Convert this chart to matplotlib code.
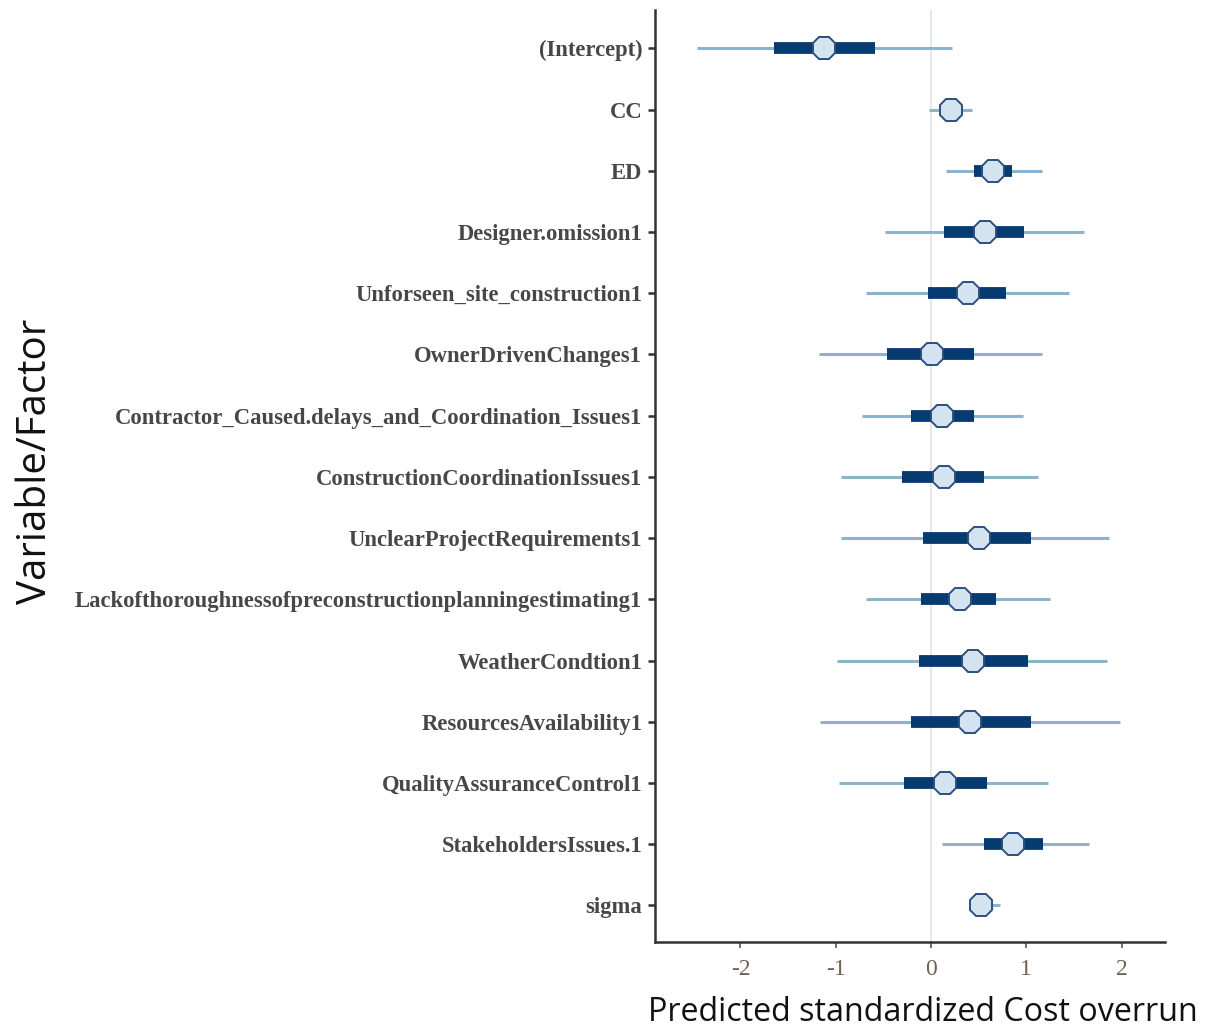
import matplotlib
matplotlib.use("Agg")
import matplotlib.pyplot as plt

# Posterior summaries per model term: median, 50% interval, 90% interval
terms = [
    "(Intercept)",
    "CC",
    "ED",
    "Designer.omission1",
    "Unforseen_site_construction1",
    "OwnerDrivenChanges1",
    "Contractor_Caused.delays_and_Coordination_Issues1",
    "ConstructionCoordinationIssues1",
    "UnclearProjectRequirements1",
    "Lackofthoroughnessofpreconstructionplanningestimating1",
    "WeatherCondtion1",
    "ResourcesAvailability1",
    "QualityAssuranceControl1",
    "StakeholdersIssues.1",
    "sigma",
]
median = [-1.12, 0.21, 0.65, 0.57, 0.39, 0.01, 0.12, 0.14, 0.50, 0.30, 0.44, 0.41, 0.15, 0.86, 0.52]
inner_lo = [-1.65, 0.13, 0.45, 0.14, -0.03, -0.46, -0.21, -0.30, -0.08, -0.11, -0.13, -0.21, -0.28, 0.56, 0.45]
inner_hi = [-0.59, 0.29, 0.85, 0.98, 0.79, 0.45, 0.45, 0.56, 1.05, 0.68, 1.02, 1.05, 0.59, 1.18, 0.59]
outer_lo = [-2.46, -0.02, 0.16, -0.48, -0.68, -1.18, -0.73, -0.94, -0.94, -0.68, -0.99, -1.17, -0.97, 0.12, 0.41]
outer_hi = [0.22, 0.43, 1.16, 1.60, 1.45, 1.16, 0.96, 1.12, 1.87, 1.25, 1.85, 1.98, 1.23, 1.66, 0.72]
xticks = [-2, -1, 0, 1, 2]

fig = plt.figure(figsize=(12.08, 10.32), dpi=100)
ax = fig.add_axes([0.542, 0.087, 0.422, 0.903])

n = len(terms)
ypos = list(range(n))

ax.axvline(0, color="#e3e3e3", lw=1.2, zorder=0)
ax.hlines(ypos, outer_lo, outer_hi, color="#8db4cc", lw=2.2, zorder=1)
ax.hlines(ypos, inner_lo, inner_hi, color="#053b70", lw=8.5, zorder=2,
          capstyle="butt")
ax.plot(median, ypos, linestyle="none", marker="8", markersize=17.5,
        markerfacecolor="#d3e3ef", markeredgecolor="#2d4f7e",
        markeredgewidth=1.4, zorder=3)

ax.set_ylim(n - 0.4, -0.62)
ax.set_xlim(-2.9, 2.45)
ax.set_yticks(ypos)
ax.set_yticklabels(terms, family="Liberation Serif", fontweight="bold",
                   fontsize=16.3, color="#474747")
ax.set_xticks(xticks)
ax.set_xticklabels([str(v) for v in xticks], family="Liberation Serif",
                   fontsize=17, color="#6e6251")

for side in ("top", "right"):
    ax.spines[side].set_visible(False)
for side in ("left", "bottom"):
    ax.spines[side].set_linewidth(1.8)
    ax.spines[side].set_color("#333333")
ax.tick_params(axis="y", length=5, width=1.8, color="#333333", pad=4)
ax.tick_params(axis="x", length=4, width=1.2, color="#555555", pad=8)

fig.text(0.764, 0.019, "Predicted standardized Cost overrun", family="Open Sans",
         fontsize=23.2, color="#111111", ha="center", va="center")
fig.text(0.030, 0.553, "Variable/Factor", rotation=90, family="Open Sans",
         fontsize=29, color="#111111", ha="center", va="center")

fig.savefig("out.png", dpi=100, facecolor="white")
